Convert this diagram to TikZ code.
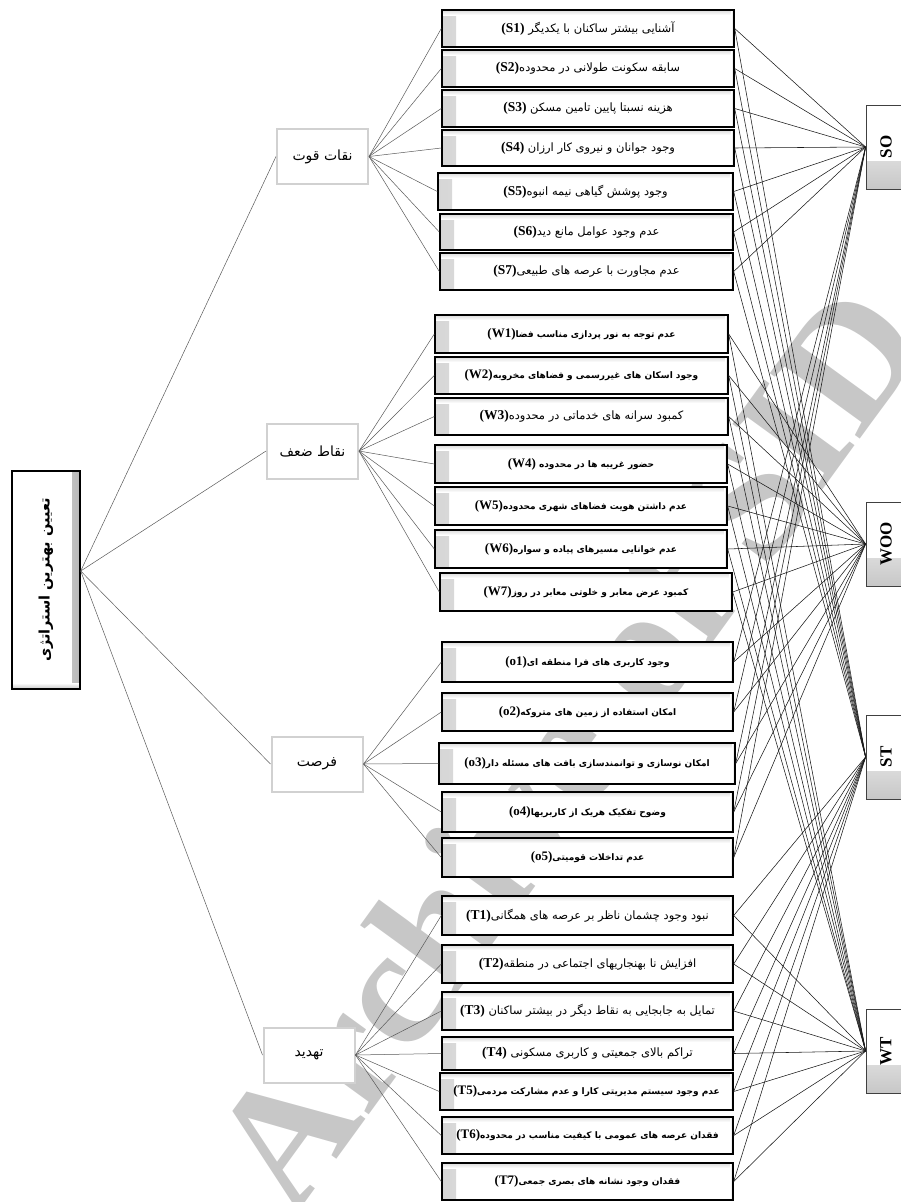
\documentclass[tikz,border=0pt]{standalone}
\usepackage{fontspec}
\usepackage{graphicx}
\setmainfont{Liberation Serif}
\newfontfamily\fa[Script=Arabic]{DejaVu Sans}
\newfontfamily\latinb{Liberation Serif}
\TeXXeTstate=1
\newcommand{\fatxt}[2]{{\fa\fontsize{11.5}{13}\selectfont\beginR #1{\latinb\bfseries\fontsize{13.5}{14}\selectfont\beginL #2\endL}\endR}}
\newcommand{\fatxb}[2]{{\fa\bfseries\fontsize{9}{12}\selectfont\beginR #1{\latinb\bfseries\fontsize{13}{14}\selectfont\beginL #2\endL}\endR}}
\newcommand{\itm}[6]{\node[itembox, minimum width={(#3-#2)*1pt}, minimum height={(#5-#4)*1pt}] (#1) at ({(#2+#3)/2},{(#4+#5)/2}) {#6};}
\begin{document}
\begin{tikzpicture}[x=1pt,y=-1pt,
 itembox/.style={draw=black, line width=1.4pt, fill=white, inner sep=1pt,
   path picture={
     \shade[left color=black!16, right color=white] (path picture bounding box.north west) rectangle ([xshift=14pt]path picture bounding box.south west);
     \shade[top color=black!14, bottom color=white] (path picture bounding box.north west) rectangle ([yshift=-5pt]path picture bounding box.north east);
     \shade[left color=white, right color=black!18] ([xshift=-3pt]path picture bounding box.north east) rectangle (path picture bounding box.south east);
   }},
 catbox/.style={draw=black!18, line width=2pt, fill=white, minimum width=91pt, minimum height=55pt,
   font=\fa\fontsize{14}{16}\selectfont},
 rootbox/.style={draw=black, line width=1.4pt, fill=white, minimum width=68pt, minimum height=218pt,
   font=\fa\bfseries\fontsize{14.5}{16}\selectfont,
   path picture={
     \shade[left color=white, right color=black!28] ([xshift=-8pt]path picture bounding box.north east) rectangle (path picture bounding box.south east);
     \shade[top color=white, bottom color=black!22] ([yshift=6pt]path picture bounding box.south west) rectangle (path picture bounding box.south east);
   }},
 stratbox/.style={draw=black!75, line width=0.8pt, fill=white, minimum width=40pt, minimum height=84pt,
   font=\latinb\bfseries\fontsize{17}{17}\selectfont,
   path picture={
     \shade[top color=white, bottom color=black!22] ([yshift=28pt]path picture bounding box.south west) rectangle (path picture bounding box.south east);
   }},
 catline/.style={black!65, line width=0.5pt},
 link/.style={black!90, line width=0.55pt},
 watermark/.style={text=black!22, font=\latinb\bfseries\fontsize{170}{170}\selectfont}
]
\useasboundingbox (0,0) rectangle (901,1202);

\node[watermark, rotate=54] (wm) at (565,745) {Archive of SID};

% root
\node[rootbox] (root) at (46,580) {\rotatebox{90}{\beginR تعیین بهترین استراتژی\endR}};

% categories
\node[catbox] (C1) at (322.5,156.5) {\beginR نقات قوت\endR};
\node[catbox] (C2) at (312.5,451) {\beginR نقاط ضعف\endR};
\node[catbox] (C3) at (317,764) {\beginR فرصت\endR};
\node[catbox] (C4) at (309,1055) {\beginR تهدید\endR};

% strategy boxes
\node[stratbox] (SO) at (886,147) {\rotatebox{90}{SO}};
\node[stratbox] (WOO) at (886,544) {\rotatebox{90}{WOO}};
\node[stratbox] (ST) at (886,757) {\rotatebox{90}{ST}};
\node[stratbox] (WT) at (886,1051) {\rotatebox{90}{WT}};

% connectors root -> categories
\draw[catline] ([yshift=9pt]root.east) -- (C1.west);
\draw[catline] ([yshift=9pt]root.east) -- (C2.west);
\draw[catline] ([yshift=9pt]root.east) -- (C3.west);
\draw[catline] ([yshift=9pt]root.east) -- (C4.west);

% strength items
\itm{S1}{442}{734}{10}{47}{\fatxt{آشنایی بیشتر ساکنان با یکدیگر }{(S1)}}
\itm{S2}{442}{734}{50}{87}{\fatxt{سابقه سکونت طولانی در محدوده}{(S2)}}
\itm{S3}{442}{734}{90}{127}{\fatxt{هزینه نسبتا پایین تامین مسکن }{(S3)}}
\itm{S4}{442}{734}{130}{166}{\fatxt{وجود جوانان و نیروی کار ارزان }{(S4)}}
\itm{S5}{438}{733}{173}{210}{\fatxt{وجود پوشش گیاهی نیمه انبوه}{(S5)}}
\itm{S6}{440}{733}{214}{250}{\fatxt{عدم وجود عوامل مانع دید}{(S6)}}
\itm{S7}{440}{733}{253}{290}{\fatxt{عدم مجاورت با عرصه های طبیعی}{(S7)}}
% weakness items
\itm{W1}{435}{728}{315}{353}{\fatxb{عدم توجه به نور پردازی مناسب فضا}{(W1)}}
\itm{W2}{435}{728}{357}{394}{\fatxb{وجود اسکان های غیررسمی و فضاهای مخروبه}{(W2)}}
\itm{W3}{435}{728}{398}{435}{\fatxt{کمبود سرانه های خدماتی در محدوده}{(W3)}}
\itm{W4}{435}{727}{445}{483}{\fatxb{حضور غریبه ها در محدوده }{(W4)}}
\itm{W5}{435}{727}{487}{525}{\fatxb{عدم داشتن هویت فضاهای شهری محدوده}{(W5)}}
\itm{W6}{435}{727}{530}{568}{\fatxb{عدم خوانایی مسیرهای پیاده و سواره}{(W6)}}
\itm{W7}{440}{732}{573}{611}{\fatxb{کمبود عرض معابر و خلوتی معابر در روز}{(W7)}}
% opportunity items
\itm{O1}{442}{733}{642}{682}{\fatxb{وجود کاربری های فرا منطقه ای}{(o1)}}
\itm{O2}{442}{733}{693}{731}{\fatxb{امکان استفاده از زمین های متروکه}{(o2)}}
\itm{O3}{439}{735}{743}{784}{\fatxb{امکان نوسازی و توانمندسازی بافت های مسئله دار}{(o3)}}
\itm{O4}{442}{733}{792}{832}{\fatxb{وضوح تفکیک هریک از کاربریها}{(o4)}}
\itm{O5}{442}{733}{838}{877}{\fatxb{عدم تداخلات قومیتی}{(o5)}}
% threat items
\itm{T1}{442}{733}{896}{935}{\fatxt{نبود وجود چشمان ناظر بر عرصه های همگانی}{(T1)}}
\itm{T2}{442}{733}{945}{983}{\fatxt{افزایش نا بهنجاریهای اجتماعی در منطقه}{(T2)}}
\itm{T3}{442}{733}{992}{1030}{\fatxt{تمایل به جابجایی به نقاط دیگر در بیشتر ساکنان }{(T3)}}
\itm{T4}{442}{733}{1037}{1070}{\fatxt{تراکم بالای جمعیتی و کاربری مسکونی }{(T4)}}
\itm{T5}{440}{733}{1073}{1110}{\fatxb{عدم وجود سیستم مدیریتی کارا و عدم مشارکت مردمی}{(T5)}}
\itm{T6}{442}{733}{1117}{1154}{\fatxb{فقدان عرصه های عمومی با کیفیت مناسب در محدوده}{(T6)}}
\itm{T7}{442}{733}{1163}{1200}{\fatxb{فقدان وجود نشانه های بصری جمعی}{(T7)}}

% category -> items
\foreach \i in {1,...,7} {\draw[catline] (C1.east) -- (S\i.west);}
\foreach \i in {1,...,7} {\draw[catline] (C2.east) -- (W\i.west);}
\foreach \i in {1,...,5} {\draw[catline] (C3.east) -- (O\i.west);}
\foreach \i in {1,...,7} {\draw[catline] (C4.east) -- (T\i.west);}

% items -> strategies
\foreach \i in {1,...,7} {\draw[link] (S\i.east) -- (SO.west); \draw[link] (S\i.east) -- (ST.west);}
\foreach \i in {1,...,7} {\draw[link] (W\i.east) -- (WOO.west); \draw[link] (W\i.east) -- (WT.west);}
\foreach \i in {1,...,5} {\draw[link] (O\i.east) -- (SO.west); \draw[link] (O\i.east) -- (WOO.west);}
\foreach \i in {1,...,7} {\draw[link] (T\i.east) -- (ST.west); \draw[link] (T\i.east) -- (WT.west);}
\end{tikzpicture}
\end{document}
